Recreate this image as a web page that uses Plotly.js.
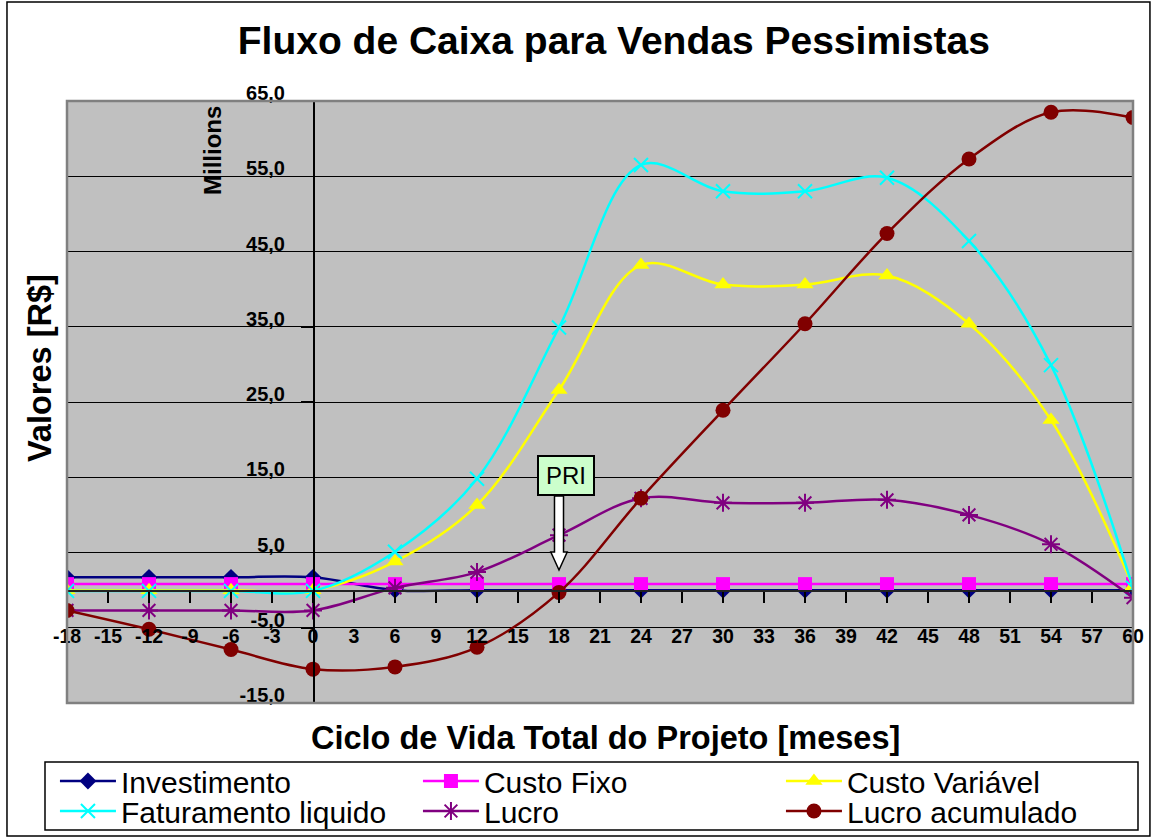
<!DOCTYPE html>
<html>
<head>
<meta charset="utf-8">
<script src="https://cdn.plot.ly/plotly-3.0.1.min.js"></script>
<style>
  html, body { margin: 0; padding: 0; background: #fff; }
  #chart { width: 1153px; height: 839px; }
</style>
</head>
<body>
<div id="chart"></div>
<script>
// ---- data (values in millions of R$) ----
const months = [-18, -12, -6, 0, 6, 12, 18, 24, 30, 36, 42, 48, 54, 60];
const investimento = [1.7, 1.7, 1.7, 1.7, 0, 0, 0, 0, 0, 0, 0, 0, 0, 0];
const custoFixo = [0.8, 0.8, 0.8, 0.8, 0.8, 0.8, 0.8, 0.8, 0.8, 0.8, 0.8, 0.8, 0.8, 0.8];
const custoVariavel = [0, 0, 0, 0, 3.8, 11.3, 26.6, 43.2, 40.6, 40.6, 41.8, 35.4, 22.6, 0.5];
const faturamento = [-0.1, -0.1, -0.1, -0.1, 5.1, 14.8, 34.9, 56.5, 53.0, 53.0, 54.8, 46.4, 29.9, 0.3];
const lucro = [-2.7, -2.7, -2.7, -2.7, 0.3, 2.4, 7.3, 12.2, 11.6, 11.6, 12.0, 10.0, 6.1, -1.0];
const lucroAcumulado = [-2.7, -5.2, -7.9, -10.5, -10.2, -7.6, -0.3, 12.2, 23.9, 35.4, 47.4, 57.3, 63.5, 62.8];

const xTickVals = [-18,-15,-12,-9,-6,-3,0,3,6,9,12,15,18,21,24,27,30,33,36,39,42,45,48,51,54,57,60];
const xTickText = ['-18','-15','-12','-9','-6','-3','0','3','6','9','12','15','18','21','24','27','30','33','36','39','42','45','48','51','54','57','60'];
const yTickVals = [-15, -5, 5, 15, 25, 35, 45, 55, 65];
const yTickText = ['-15,0','-5,0','5,0','15,0','25,0','35,0','45,0','55,0','65,0'];

const priMonth = 18;   // payback month (PRI)

const FONT = 'Arial, "Liberation Sans", sans-serif';

function series(name, y, color, symbol, size, openMarker, legendId) {
  const marker = { symbol: symbol, size: size, color: color };
  marker.line = openMarker ? { color: color, width: 2 } : { width: 0 };
  return {
    type: 'scatter', mode: 'lines+markers', name: name,
    x: months, y: y, legend: legendId,
    line: { color: color, width: 2.5, shape: 'spline', smoothing: 1 },
    marker: marker
  };
}

const traces = [
  series('Investimento', investimento, '#000080', 'diamond', 13, false, 'legend'),
  series('Custo Fixo', custoFixo, '#FF00FF', 'square', 14, false, 'legend'),
  series('Custo Variável', custoVariavel, '#FFFF00', 'triangle-up', 15, false, 'legend'),
  series('Faturamento liquido', faturamento, '#00FFFF', 'x-thin-open', 14, true, 'legend2'),
  series('Lucro', lucro, '#800080', 'asterisk-open', 15, true, 'legend2'),
  series('Lucro acumulado', lucroAcumulado, '#800000', 'circle', 15, false, 'legend2')
];

const xMin = -18, xMax = 60, yMin = -15, yMax = 65;

// PRI block arrow (x in months, y in millions)
const ax = priMonth, sw = 0.33, hw = 0.6;
const arrowPath = `M ${ax - sw},12.5 L ${ax - sw},5.06 L ${ax - hw},5.06 L ${ax},2.67 L ${ax + hw},5.06 L ${ax + sw},5.06 L ${ax + sw},12.5 Z`;

function legendRow(yPos) {
  return {
    orientation: 'h',
    x: -0.0113, xanchor: 'left',
    y: yPos, yanchor: 'middle',
    bgcolor: 'rgba(0,0,0,0)', borderwidth: 0,
    font: { family: FONT, size: 30, color: '#000' },
    entrywidth: 292, entrywidthmode: 'pixels',
    itemwidth: 56,
    traceorder: 'normal'
  };
}

const layout = {
  width: 1153, height: 839,
  margin: { l: 67, r: 20, t: 101, b: 136, autoexpand: false },
  paper_bgcolor: '#ffffff',
  plot_bgcolor: '#C0C0C0',
  separators: ',.',
  font: { family: FONT, color: '#000' },
  title: {
    text: '<b>Fluxo de Caixa para Vendas Pessimistas</b>',
    font: { family: FONT, size: 39, color: '#000' },
    xref: 'paper', x: 0.513, xanchor: 'center',
    yref: 'container', y: 0.952, yanchor: 'middle'
  },
  showlegend: true,
  legend: legendRow(-0.1296),
  legend2: legendRow(-0.1794),
  xaxis: {
    range: [xMin, xMax],
    anchor: 'free', position: (0 - yMin) / (yMax - yMin),
    tickmode: 'array', tickvals: xTickVals, ticktext: xTickText,
    ticks: 'outside', ticklen: 11, tickwidth: 1.5, tickcolor: '#000',
    ticklabelstandoff: 17,
    tickfont: { family: FONT, size: 19.5, color: '#000', weight: 'bold' },
    showline: true, linecolor: '#222', linewidth: 1.5,
    showgrid: false, zeroline: false, fixedrange: true
  },
  yaxis: {
    range: [yMin, yMax],
    anchor: 'free', position: (0 - xMin) / (xMax - xMin),
    tickmode: 'array', tickvals: yTickVals, ticktext: yTickText,
    ticks: 'outside', ticklen: 12, tickwidth: 1.5, tickcolor: '#000',
    ticklabelshift: -8, ticklabelstandoff: 12,
    tickfont: { family: FONT, size: 20, color: '#000', weight: 'bold' },
    showline: true, linecolor: '#000', linewidth: 1.5,
    showgrid: true, gridcolor: '#000', gridwidth: 1,
    zeroline: false, fixedrange: true
  },
  shapes: [
    { type: 'rect', xref: 'paper', yref: 'paper', x0: 0, x1: 1, y0: 0, y1: 1,
      line: { color: '#808080', width: 2.5 }, fillcolor: 'rgba(0,0,0,0)', layer: 'above' },
    { type: 'rect', xref: 'paper', yref: 'paper', x0: -0.0563, x1: 1.0159, y0: -0.2209, y1: 1.1645,
      line: { color: '#000', width: 1.5 }, fillcolor: 'rgba(0,0,0,0)', layer: 'below' },
    // legend frame
    { type: 'rect', xref: 'paper', yref: 'paper', x0: -0.02064, x1: 1.00469, y0: -0.21096, y1: -0.0980,
      line: { color: '#000', width: 1.5 }, fillcolor: '#ffffff', layer: 'below' },
    { type: 'path', xref: 'x', yref: 'y', path: arrowPath,
      fillcolor: '#ffffff', line: { color: '#000', width: 1.5 }, layer: 'above' }
  ],
  annotations: [
    { text: '<b>Ciclo de Vida Total do Projeto [meses]</b>', xref: 'paper', yref: 'paper',
      x: 0.5047, y: -0.0581, xanchor: 'center', yanchor: 'middle', showarrow: false,
      font: { family: FONT, size: 32.5, color: '#000' } },
    { text: '<b>Valores [R$]</b>', xref: 'paper', yref: 'paper', textangle: -90,
      x: -0.0253, y: 0.5565, xanchor: 'center', yanchor: 'middle', showarrow: false,
      font: { family: FONT, size: 32.5, color: '#000' } },
    { text: '<b>Millions</b>', xref: 'paper', yref: 'paper', textangle: -90,
      x: 0.136, y: 0.9186, xanchor: 'center', yanchor: 'middle', showarrow: false,
      font: { family: FONT, size: 24, color: '#000' } },
    { text: 'PRI', xref: 'x', yref: 'y', x: priMonth + 0.51, y: 15.2,
      xanchor: 'center', yanchor: 'middle', showarrow: false,
      width: 52, height: 35, borderpad: 1,
      bgcolor: '#CCFFCC', bordercolor: '#000', borderwidth: 2,
      font: { family: FONT, size: 24, color: '#000' } }
  ]
};

Plotly.newPlot('chart', traces, layout, { displayModeBar: false, staticPlot: true });
</script>
</body>
</html>
